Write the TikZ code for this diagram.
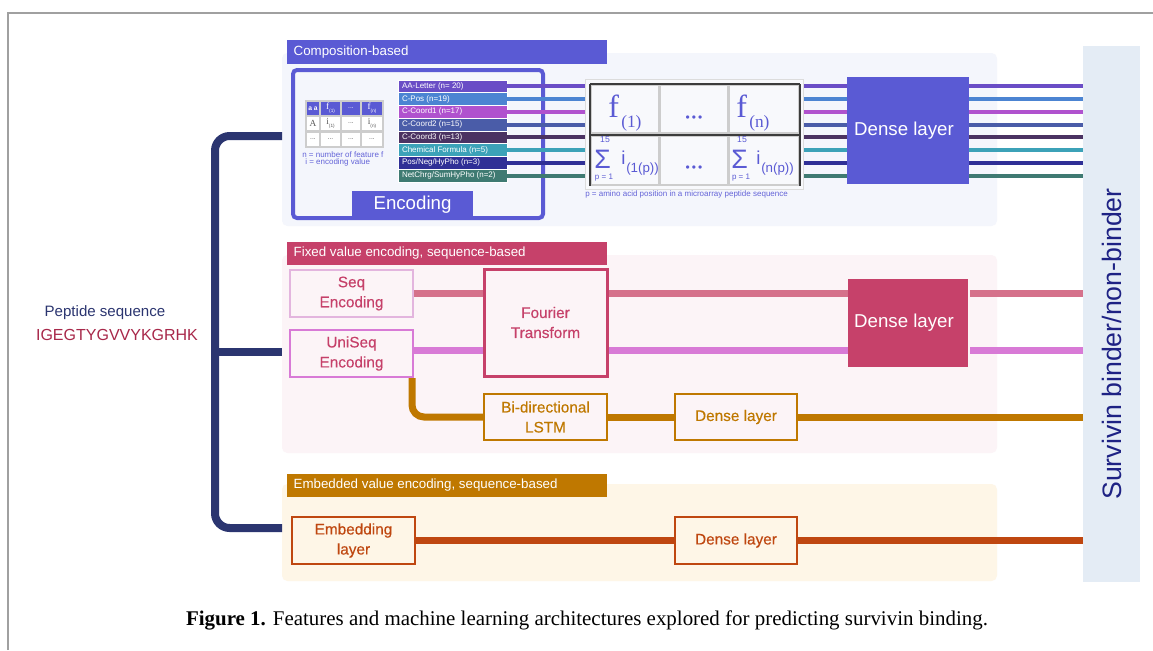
\documentclass[tikz,border=0pt]{standalone}
\usepackage{fontspec}
\setmainfont{Liberation Sans}
\newfontfamily\seriffont{Liberation Serif}
\newfontface\medfont{Liberation Sans}[FakeBold=0.35]
\usetikzlibrary{fit}

\definecolor{cmpurple}{HTML}{5A5AD4}
\definecolor{cmbg}{HTML}{F4F6FC}
\definecolor{cmtext}{HTML}{6464D8}
\definecolor{fxred}{HTML}{C6416A}
\definecolor{fxbg}{HTML}{FCF4F7}
\definecolor{fxpink}{HTML}{D5718B}
\definecolor{fxorchid}{HTML}{D87AD6}
\definecolor{fxlilac}{HTML}{E3B5DE}
\definecolor{emgold}{HTML}{BF7800}
\definecolor{embg}{HTML}{FEF6E7}
\definecolor{emrust}{HTML}{BF4710}
\definecolor{navy}{HTML}{2B3570}
\definecolor{pepred}{HTML}{A8284A}
\definecolor{panelbg}{HTML}{E4ECF5}
\definecolor{paneltext}{HTML}{1E2284}
\definecolor{pageframe}{HTML}{A0A0A0}
\definecolor{tblbg}{HTML}{F8F9FC}
\definecolor{tblgrey}{HTML}{CDCDCD}
\definecolor{tbldark}{HTML}{3C3C3C}
% feature-row colours
\definecolor{ftA}{HTML}{6A4DC6}
\definecolor{ftB}{HTML}{4C84D2}
\definecolor{ftC}{HTML}{B052CE}
\definecolor{ftD}{HTML}{4A5CA8}
\definecolor{ftE}{HTML}{4B3262}
\definecolor{ftF}{HTML}{3CA2B8}
\definecolor{ftG}{HTML}{2F2F96}
\definecolor{ftH}{HTML}{3F7A72}

\tikzset{
  bgpanel/.style={inner sep=0pt, rounded corners=4pt},
  hdrbar/.style={inner sep=0pt},
  hdrtext/.style={anchor=west, inner sep=0pt, text=white, font=\fontsize{10}{12}\selectfont},
  stagebox/.style={inner sep=0pt, line width=1.5pt},
  stagetext/.style={inner sep=0pt, align=center, font=\medfont\fontsize{11.5}{15}\selectfont},
  densetext/.style={inner sep=0pt, text=white, font=\fontsize{14}{16}\selectfont},
  wire/.style={line width=5.25pt},
  featwire/.style={line width=3pt},
  feat/.style={inner sep=0pt, draw=white, line width=0.4pt},
  feattext/.style={anchor=west, inner sep=0pt, text=white, font=\fontsize{6}{7}\selectfont},
  tcell/.style={inner sep=0pt, fill=tblbg, draw=tblgrey, line width=1.5pt},
  tdark/.style={draw=tbldark, line width=1.5pt},
  stcell/.style={inner sep=0pt, draw=tblgrey, line width=0.8pt, fill=white},
  sttext/.style={inner sep=0pt, text=black!65, font=\fontsize{5}{6}\selectfont},
  bigf/.style={anchor=base west, inner sep=0pt, text=cmpurple, font=\seriffont\fontsize{24}{26}\selectfont},
  bigsub/.style={anchor=base west, inner sep=0pt, text=cmpurple, font=\seriffont\fontsize{13}{14}\selectfont},
  sigma/.style={anchor=base west, inner sep=0pt, text=cmpurple, font=\fontsize{20}{21}\selectfont},
  sumlim/.style={anchor=base, inner sep=0pt, text=cmpurple, font=\fontsize{6.5}{7}\selectfont},
  sumi/.style={anchor=base west, inner sep=0pt, text=cmpurple, font=\fontsize{14}{15}\selectfont},
  sumsub/.style={anchor=base west, inner sep=0pt, text=cmpurple, font=\fontsize{10}{11}\selectfont},
  tdots/.style={anchor=base, inner sep=0pt, text=cmpurple, font=\fontsize{9}{10}\selectfont},
  note/.style={anchor=west, inner sep=0pt, text=cmtext, font=\fontsize{6}{7}\selectfont},
  bracket/.style={draw=navy, line width=6pt, rounded corners=11pt},
}

\begin{document}
\begin{tikzpicture}[x=0.75pt, y=-0.75pt]
\useasboundingbox (0,0) rectangle (1153,650);
\fill[white] (0,0) rectangle (1153,650);

% page frame
\draw[pageframe, line width=1.1pt] (8,650) -- (8,13) -- (1153,13);

% section backgrounds
\node[bgpanel, fill=cmbg, fit={(282,53) (997,226)}] (compbg) {};
\node[bgpanel, fill=fxbg, fit={(282,255) (997,453)}] (fixbg) {};
\node[bgpanel, fill=embg, fit={(282,484) (997,581)}] (embbg) {};

% output panel
\node[inner sep=0pt, fill=panelbg, fit={(1083,46) (1140,582)}] (panel) {};
\node[rotate=90, text=paneltext, font=\fontsize{20}{24}\selectfont] (paneltxt) at (1112,344) {Survivin binder/non-binder};

% section headers
\node[hdrbar, fill=cmpurple, fit={(287,40) (607,64)}] (comphdr) {};
\node[hdrtext] (comphdrtxt) at ([xshift=5pt]comphdr.west) {Composition-based};
\node[hdrbar, fill=fxred, fit={(287,242) (607,265)}] (fixhdr) {};
\node[hdrtext] (fixhdrtxt) at ([xshift=5pt]fixhdr.west) {Fixed value encoding, sequence-based};
\node[hdrbar, fill=emgold, fit={(287,474) (607,497)}] (embhdr) {};
\node[hdrtext] (embhdrtxt) at ([xshift=5pt]embhdr.west) {Embedded value encoding, sequence-based};

% ---------- composition-based branch ----------
\node[inner sep=0pt, draw=cmpurple, line width=3pt, rounded corners=3pt, fit={(293,70) (543,218)}] (encbox) {};
\node[inner sep=0pt, fill=cmpurple, fit={(352,191) (473,218)}] (enctab) {};
\node[densetext] (enctabtxt) at (enctab) {Encoding};

% small feature table
\foreach \c/\xa/\xb in {1/306/320, 2/320/341, 3/341/361, 4/361/383}{
  \node[stcell, fill=cmpurple, fit={(\xa,101) (\xb,116)}] (st1\c) {};
  \node[stcell, fit={(\xa,116) (\xb,131)}] (st2\c) {};
  \node[stcell, fit={(\xa,132) (\xb,147)}] (st3\c) {};
}
\node[sttext, text=white, font=\bfseries\fontsize{5}{6}\selectfont] (sthA) at (st11) {a a};
\node[sttext, text=white] (sthB) at (st12) {{\seriffont\fontsize{7}{7}\selectfont f}\raisebox{-2pt}{\fontsize{3.5}{4}\selectfont(1)}};
\node[sttext, text=white] (sthC) at (st13) {...};
\node[sttext, text=white] (sthD) at (st14) {{\seriffont\fontsize{7}{7}\selectfont f}\raisebox{-2pt}{\fontsize{3.5}{4}\selectfont(n)}};
\node[sttext] (stbA) at (st21) {\seriffont\fontsize{7}{7}\selectfont A};
\node[sttext] (stbB) at (st22) {{\seriffont\fontsize{7}{7}\selectfont i}\raisebox{-2pt}{\fontsize{3.5}{4}\selectfont(1)}};
\node[sttext] (stbC) at (st23) {...};
\node[sttext] (stbD) at (st24) {{\seriffont\fontsize{7}{7}\selectfont i}\raisebox{-2pt}{\fontsize{3.5}{4}\selectfont(n)}};
\foreach \c in {1,2,3,4} \node[sttext] (stc\c) at (st3\c) {...};
\node[note] (noteN) at (302,155) {n = number of feature f};
\node[note] (noteI) at (305,162) {i = encoding value};

% feature rows
\foreach \i/\col/\txt in {0/ftA/{AA-Letter (n= 20)}, 1/ftB/{C-Pos (n=19)}, 2/ftC/{C-Coord1 (n=17)},
    3/ftD/{C-Coord2 (n=15)}, 4/ftE/{C-Coord3 (n=13)}, 5/ftF/{Chemical Formula (n=5)},
    6/ftG/{Pos/Neg/HyPho (n=3)}, 7/ftH/{NetChrg/SumHyPho (n=2)}}{
  \node[feat, fill=\col, fit={(398,{80+12.75*\i}) (507,{92.75+12.75*\i})}] (ft\i) {};
  \node[feattext] (ftt\i) at ([xshift=3pt]ft\i.west) {\txt};
}
\foreach \i/\col in {0/ftA, 1/ftB, 2/ftC, 3/ftD, 4/ftE, 5/ftF, 6/ftG, 7/ftH}
  \draw[featwire, draw=\col] (ft\i.east) -- (ft\i.east -| panel.west);

% aggregated feature table
\node[inner sep=0pt, fill=tblbg, draw=tblgrey!70, line width=0.75pt, fit={(585,79) (803,189)}] (ftab) {};
\foreach \r/\ya/\yb in {1/85/133, 2/136/185}
  \foreach \c/\xa/\xb in {1/591/659, 2/660/728, 3/729/799}
    \node[tcell, fit={(\xa,\ya) (\xb,\yb)}] (tc\r\c) {};
\draw[tdark] (tc11.north west) -- (tc13.north east);
\draw[tdark] (tc21.north west) -- (tc23.north east);
\draw[tdark] (tc11.north west) -- (tc21.south west);
\draw[tdark] (tc13.north east) -- (tc23.south east);

\node[bigf] (fA) at (608,117) {f};
\node[bigsub] (fAsub) at (621,127) {(1)};
\node[tdots] (dotsA) at (tc12.center |- 0,121) {•\,•\,•};
\node[bigf] (fN) at (736,117) {f};
\node[bigsub] (fNsub) at (749,127) {(n)};

\node[sigma] (sumA) at (594,168) {Σ};
\node[sumlim] (sumAtop) at (605,142.5) {15};
\node[sumlim, font=\fontsize{6}{7}\selectfont] (sumAbot) at (604,179) {p = 1};
\node[sumi] (iA) at (621,164) {i};
\node[sumsub] (iAsub) at (626,172) {(1(p))};
\node[tdots] (dotsB) at (tc22.center |- 0,171) {•\,•\,•};
\node[sigma] (sumN) at (731,168) {Σ};
\node[sumlim] (sumNtop) at (742,142.5) {15};
\node[sumlim, font=\fontsize{6}{7}\selectfont] (sumNbot) at (741,179) {p = 1};
\node[sumi] (iN) at (756,164) {i};
\node[sumsub] (iNsub) at (761,172) {(n(p))};
\node[note] (noteP) at (585,194) {p = amino acid position in a microarray peptide sequence};

\node[inner sep=0pt, fill=cmpurple, fit={(847,77) (969,184)}] (cmdense) {};
\node[densetext] (cmdensetxt) at ([xshift=-3pt]cmdense) {Dense layer};

% ---------- fixed value branch ----------
\node[stagebox, draw=fxlilac, fit={(290,270) (413,317)}] (seq) {};
\node[stagetext, text=fxred] (seqtxt) at (seq) {Seq\\Encoding};
\node[stagebox, draw=fxorchid, fit={(290,330) (413,377)}] (uniseq) {};
\node[stagetext, text=fxred] (uniseqtxt) at (uniseq) {UniSeq\\Encoding};
\node[stagebox, draw=fxred, line width=2.25pt, fit={(484,269) (607,376)}] (fourier) {};
\node[stagetext, text=fxred] (fouriertxt) at (fourier) {Fourier\\Transform};
\node[inner sep=0pt, fill=fxred, fit={(848,279) (968,367)}] (fxdense) {};
\node[densetext] (fxdensetxt) at ([xshift=-3pt]fxdense) {Dense layer};
\node[stagebox, draw=emgold, fit={(484,394) (607,440)}] (lstm) {};
\node[stagetext, text=emgold] (lstmtxt) at (lstm) {Bi-directional\\LSTM};
\node[stagebox, draw=emgold, fit={(675,394) (797,440)}] (lstmdense) {};
\node[stagetext, text=emgold] (lstmdensetxt) at (lstmdense) {Dense layer};

\coordinate (uniout) at ([yshift=2.6pt]uniseq.east);
\draw[wire, fxpink] (seq.east) -- (seq.east -| fourier.west);
\draw[wire, fxpink] (seq.east -| fourier.east) -- (seq.east -| fxdense.west);
\draw[wire, fxpink] ([xshift=1.5pt]seq.east -| fxdense.east) -- (seq.east -| panel.west);
\draw[wire, fxorchid] (uniout) -- (uniout -| fourier.west);
\draw[wire, fxorchid] (uniout -| fourier.east) -- (uniout -| fxdense.west);
\draw[wire, fxorchid] ([xshift=1.5pt]uniout -| fxdense.east) -- (uniout -| panel.west);
\draw[wire, emgold, rounded corners=9pt] ([xshift=-1.5pt]uniseq.south east) |- (lstm.west);
\draw[wire, emgold] (lstm.east) -- (lstmdense.west);
\draw[wire, emgold] (lstmdense.east) -- (lstmdense.east -| panel.west);

% ---------- embedded value branch ----------
\node[stagebox, draw=emrust, fit={(292,517) (415,564)}] (embed) {};
\node[stagetext, text=emrust] (embedtxt) at (embed) {Embedding\\layer};
\node[stagebox, draw=emrust, fit={(675,517) (797,564)}] (embdense) {};
\node[stagetext, text=emrust] (embdensetxt) at (embdense) {Dense layer};
\draw[wire, emrust] (embed.east) -- (embdense.west);
\draw[wire, emrust] (embdense.east) -- (embdense.east -| panel.west);

% ---------- input ----------
\node[text=navy, font=\fontsize{11.3}{13}\selectfont] (peplabel) at (105,313) {Peptide sequence};
\node[text=pepred, font=\fontsize{12}{14}\selectfont] (pepseq) at (117,335) {IGEGTYGVVYKGRHK};

\coordinate (brtop) at (282,136);
\coordinate (brmid) at (282,352);
\coordinate (brbot) at (282,528);
\coordinate (brspine) at (215,352);
\draw[bracket] (brtop) -- (brtop -| brspine) -- (brbot -| brspine) -- (brbot);
\draw[bracket, rounded corners=0pt] (brspine) -- (brmid);

% caption
\node[font=\seriffont\fontsize{15.7}{17}\selectfont] (caption) at (587,620)
  {\textbf{Figure 1.} Features and machine learning architectures explored for predicting survivin binding.};
\end{tikzpicture}
\end{document}
